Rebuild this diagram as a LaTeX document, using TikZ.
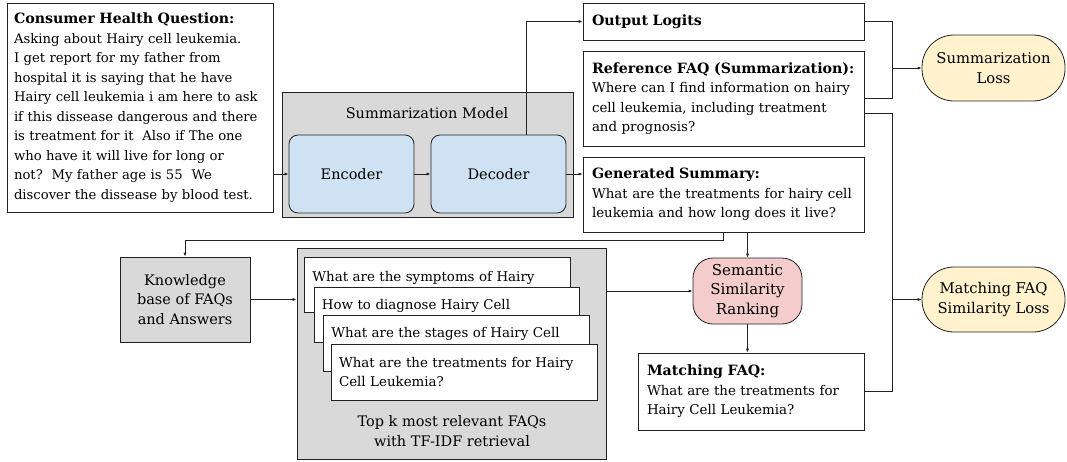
\documentclass[tikz,border=0pt]{standalone}
\usepackage{fontspec}
\setmainfont{DejaVu Serif}
\usetikzlibrary{arrows.meta,positioning}
\definecolor{linec}{HTML}{222222}
\definecolor{grayfill}{HTML}{D9D9D9}
\definecolor{bluefill}{HTML}{CFE2F3}
\definecolor{pinkfill}{HTML}{F4CCCC}
\definecolor{yellowfill}{HTML}{FFF2CC}
\newcommand{\ttl}[1]{\mbox{\fontsize{14.2}{19.5}\selectfont\bfseries #1}}
\tikzset{
  bodya/.style={font=\fontsize{13.2}{19.5}\selectfont},
  bodyb/.style={font=\fontsize{13.4}{19.5}\selectfont},
  lbl/.style={font=\fontsize{14.5}{19.5}\selectfont},
  wbox/.style={draw=linec, line width=0.8pt, fill=white, rectangle, inner sep=0pt, align=left, bodyb},
  gbox/.style={draw=linec, line width=0.8pt, fill=grayfill, rectangle, inner sep=0pt, lbl},
  rbox/.style={draw=linec, line width=0.8pt, fill=bluefill, rectangle, rounded corners=9pt, inner sep=0pt, lbl},
  lossbox/.style={draw=linec, line width=0.8pt, fill=yellowfill, rectangle, rounded corners=32pt, inner sep=0pt, align=center, font=\fontsize{14.8}{20}\selectfont},
  card/.style={wbox, anchor=north west, minimum width=266pt, text width=250pt},
  conn/.style={draw=linec, line width=0.8pt},
  arr/.style={conn, -{Latex[length=4pt,width=3.2pt]}},
}
\begin{document}
\begin{tikzpicture}[x=1pt,y=-1pt]
\useasboundingbox (0,0) rectangle (1067,461);

% left question
\node[wbox, bodya, minimum width=266pt, minimum height=209pt, text width=252pt] (q) at (140,107.5)
{\ttl{Consumer Health Question:}\\
Asking about Hairy cell leukemia.\\
I get report for my father from\\
hospital it is saying that he have\\
Hairy cell leukemia i am here to ask\\
if this dissease dangerous and there\\
is treatment for it\ \ Also if The one\\
who have it will live for long or\\
not?\ \ My father age is 55\ \ We\\
discover the dissease by blood test.};

% summarization model
\node[gbox, minimum width=291pt, minimum height=125pt] (sm) at (427.5,154.5) {};
\node[lbl] (smlabel) at (427,113) {Summarization Model};
\node[rbox, minimum width=125pt, minimum height=78pt] (enc) at (351.5,174) {Encoder};
\node[rbox, minimum width=135pt, minimum height=78pt] (dec) at (498.5,174) {Decoder};

% right column
\node[wbox, minimum width=281pt, minimum height=37pt, text width=263pt] (logits) at (723.5,21.5)
{\ttl{Output Logits}};
\node[wbox, minimum width=281pt, minimum height=95pt, text width=263pt] (ref) at (723.5,98.5)
{\ttl{Reference FAQ (Summarization):}\\
Where can I find information on hairy\\
cell leukemia, including treatment\\
and prognosis?};
\node[wbox, minimum width=281pt, minimum height=75pt, text width=263pt] (gen) at (723.5,194.5)
{\ttl{Generated Summary:}\\
What are the treatments for hairy cell\\
leukemia and how long does it live?};

% losses
\node[lossbox, minimum width=143pt, minimum height=66pt] (sloss) at (993.5,68)
{Summarization\\Loss};
\node[lossbox, minimum width=143pt, minimum height=65pt] (mloss) at (993.5,299.5)
{Matching FAQ\\Similarity Loss};

% knowledge base
\node[gbox, minimum width=130pt, minimum height=85pt, align=center] (kb) at (185,299.5)
{Knowledge\\base of FAQs\\and Answers};

% top k
\node[gbox, minimum width=309pt, minimum height=211pt] (topk) at (451.5,354) {};
\node[lbl, align=center] (topklabel) at (452,431) {Top k most relevant FAQs\\with TF-IDF retrieval};

\node[card, text height=24.5pt, text depth=30.5pt] (c1) at (304,257)
{What are the symptoms of Hairy};
\node[card, text height=22.5pt, text depth=32.5pt, minimum width=265pt] (c2) at (314,287)
{How to diagnose Hairy Cell};
\node[card, text height=22.5pt, text depth=33.5pt] (c3) at (323,315)
{What are the stages of Hairy Cell};
\node[wbox, minimum width=266pt, minimum height=56pt, text width=250pt, font=\fontsize{13.4}{19}\selectfont] (c4) at (464,372)
{What are the treatments for Hairy\\Cell Leukemia?};

% semantic
\node[draw=linec, line width=0.8pt, fill=pinkfill, rounded corners=20pt, minimum width=109pt, minimum height=66pt, inner sep=0pt, align=center, font=\fontsize{15}{19.5}\selectfont] (sem) at (747.5,291)
{Semantic\\Similarity\\Ranking};

% matching faq
\node[wbox, minimum width=226pt, minimum height=77pt, text width=208pt] (mfaq) at (751,391.5)
{\ttl{Matching FAQ:}\\
What are the treatments for\\
Hairy Cell Leukemia?};

\coordinate (bus) at (892,0);

% connectors
\draw[arr] (enc.west -| q.east) -- (enc.west);
\draw[arr] (enc.east) -- (dec.west);
\draw[arr] ([xshift=27.5pt]dec.north) |- (logits.west);
\draw[arr] (dec.east) -- (dec.east -| gen.west);
\draw[conn] (logits.east) -| (bus |- sloss.west);
\draw[conn] (ref.east) -| (bus |- sloss.west);
\draw[arr] (bus |- sloss.west) -- (sloss.west);
\draw[conn] ([yshift=-14.5pt]ref.east) -| (bus |- mloss.west);
\draw[conn] (mfaq.east) -| (bus |- mloss.west);
\draw[arr] (bus |- mloss.west) -- (mloss.west);
\draw[arr] (gen.south) -- ++(0,8) -| (kb.north);
\draw[arr] (gen.south -| sem.north) -- (sem.north);
\draw[arr] (kb.east) -- (kb.east -| topk.west);
\draw[arr] (sem.west -| topk.east) -- (sem.west);
\draw[arr] (sem.south) -- (sem.south |- mfaq.north);
\end{tikzpicture}
\end{document}
